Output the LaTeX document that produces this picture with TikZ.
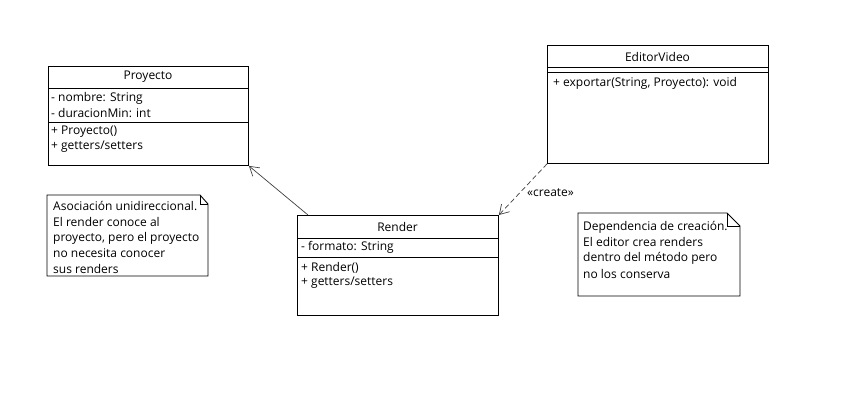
\documentclass[tikz,border=0pt]{standalone}
\usepackage{fontspec}
\setmainfont{Open Sans}
\usetikzlibrary{arrows.meta}
\begin{document}
\begin{tikzpicture}[x=1pt,y=-1pt,
  outline/.style={line width=0.9pt},
  classbox/.style={draw, line width=0.9pt, inner sep=0pt, anchor=north west},
  txt/.style={anchor=west, inner sep=0pt, font=\fontsize{12}{14}\selectfont},
  ctitle/.style={inner sep=0pt, font=\fontsize{12}{14}\selectfont},
  notebox/.style={draw, line width=0.9pt, fill=white},
  assoc/.style={draw=black!75, line width=0.7pt, -{Straight Barb[length=9pt,width=11pt]}},
  dep/.style={assoc, dashed, dash pattern=on 5pt off 3pt}
]
\fill[white] (0,0) rectangle (847,406);
\useasboundingbox (0,0) rectangle (847,406);

% Proyecto
\node[classbox, minimum width=200pt, minimum height=99pt] (proy) at (48,66) {};
\draw[outline] ([yshift=-22pt]proy.north west) -- ([yshift=-22pt]proy.north east);
\draw[outline] ([yshift=-56pt]proy.north west) -- ([yshift=-56pt]proy.north east);
\node[ctitle] (proyT) at (148,77) {Proyecto};
\node[txt] (proyA1) at (51,98) {- nombre: String};
\node[txt] (proyA2) at (51,113) {- duracionMin: int};
\node[txt] (proyM1) at (51,132) {+ Proyecto()};
\node[txt] (proyM2) at (51,147) {+ getters/setters};

% EditorVideo
\node[classbox, minimum width=221pt, minimum height=118pt] (editor) at (547,45) {};
\draw[outline] ([yshift=-22pt]editor.north west) -- ([yshift=-22pt]editor.north east);
\draw[outline] ([yshift=-27pt]editor.north west) -- ([yshift=-27pt]editor.north east);
\node[ctitle] (editorT) at (657.5,57) {EditorVideo};
\node[txt] (editorM1) at (553,83) {+ exportar(String, Proyecto): void};

% Render
\node[classbox, minimum width=201pt, minimum height=100pt] (render) at (297,215) {};
\draw[outline] ([yshift=-23pt]render.north west) -- ([yshift=-23pt]render.north east);
\draw[outline] ([yshift=-42pt]render.north west) -- ([yshift=-42pt]render.north east);
\node[ctitle] (renderT) at (397.5,227) {Render};
\node[txt] (renderA1) at (301,247) {- formato: String};
\node[txt] (renderM1) at (301,268) {+ Render()};
\node[txt] (renderM2) at (301,283) {+ getters/setters};

% Connectors
\coordinate (renderTop) at ([xshift=11pt]render.north west);
\draw[assoc] (renderTop) -- (proy.south east);
\draw[dep] (editor.south west) -- (render.north east);
\node[txt] (createLbl) at (527,193) {«create»};

% Note on the association
\draw[notebox] (47,195) -- (200,195) -- (208,204) -- (208,276) -- (47,276) -- cycle;
\draw[outline] (200,195) -- (200,204) -- (208,204);
\node[txt] (n1a) at (53,206) {Asociación unidireccional.};
\node[txt] (n1b) at (53,222) {El render conoce al};
\node[txt] (n1c) at (53,238) {proyecto, pero el proyecto};
\node[txt] (n1d) at (53,253) {no necesita conocer};
\node[txt] (n1e) at (53,269) {sus renders};

% Note on the dependency
\draw[notebox] (578,213) -- (727,213) -- (740,226) -- (740,296) -- (578,296) -- cycle;
\draw[outline] (727,213) -- (727,226) -- (740,226);
\node[txt] (n2a) at (583,227) {Dependencia de creación.};
\node[txt] (n2b) at (583,242) {El editor crea renders};
\node[txt] (n2c) at (583,258) {dentro del método pero};
\node[txt] (n2d) at (583,274) {no los conserva};
\end{tikzpicture}
\end{document}
